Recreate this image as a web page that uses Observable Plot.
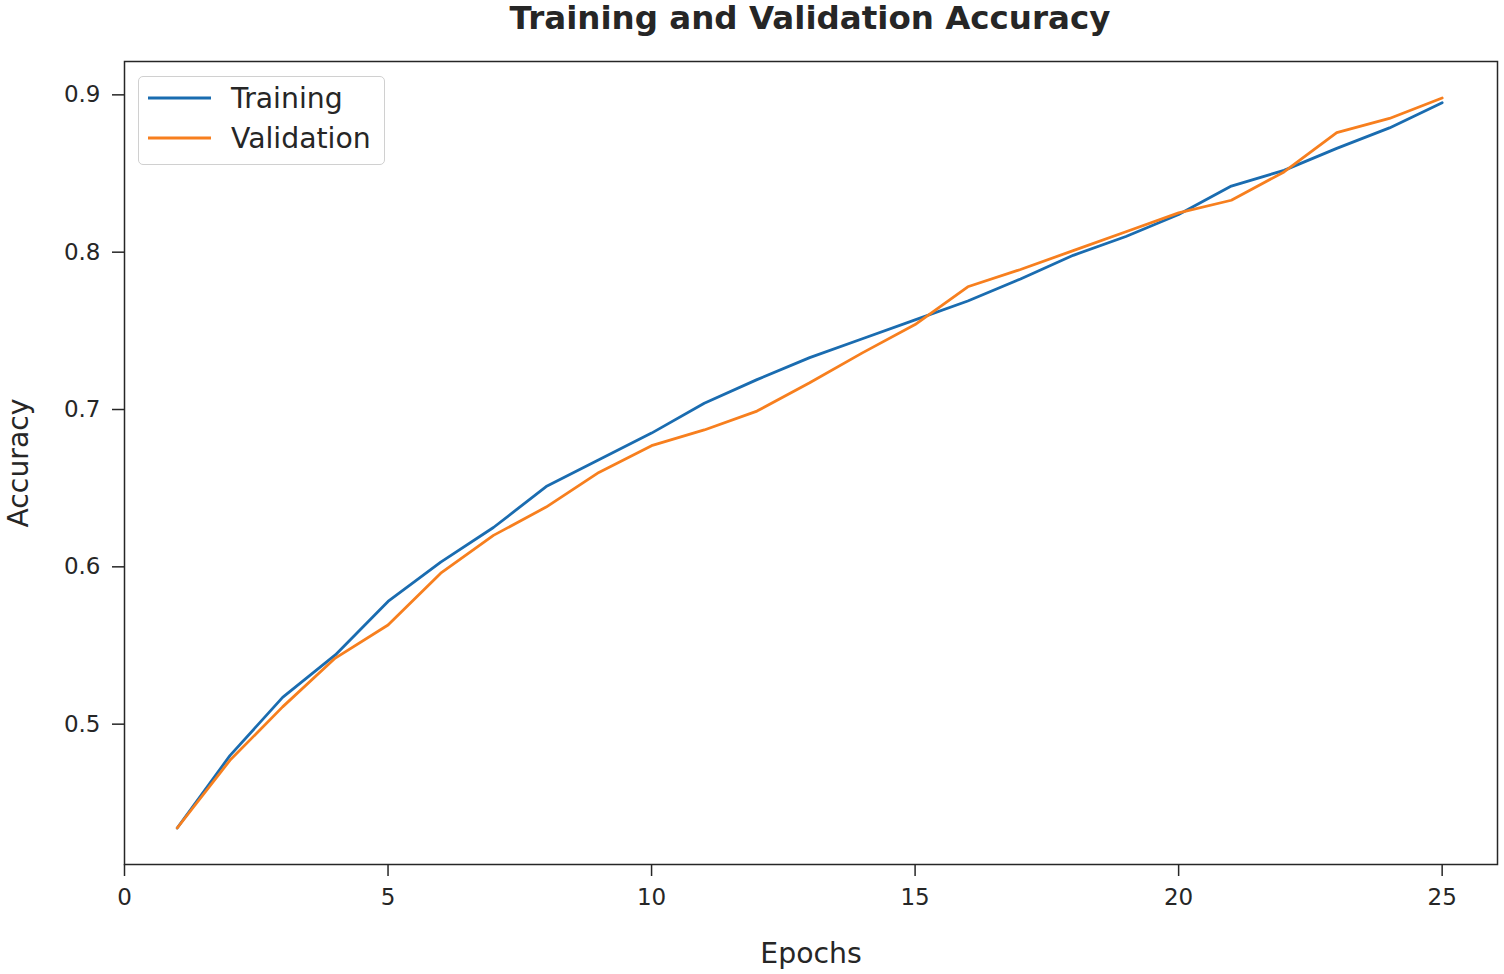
<!DOCTYPE html>
<html>
<head>
<meta charset="utf-8">
<script src="https://cdn.jsdelivr.net/npm/d3@7"></script>
<script src="https://cdn.jsdelivr.net/npm/@observablehq/plot@0.6"></script>
<style>
  html, body { margin: 0; padding: 0; background: #fff; }
  #wrap { position: relative; width: 1504px; height: 974px; font-family: "DejaVu Sans", sans-serif; color: #262626; }
  #title { height: 40px; line-height: 36px; font-size: 32.5px; font-weight: bold; text-align: center; padding-left: 116px; box-sizing: border-box; width: 1504px; }
  #legend { position: absolute; left: 138px; top: 76px; width: 247px; height: 89px; box-sizing: border-box; border: 1.5px solid #d0d0d0; border-radius: 5px; background: rgba(255,255,255,0.85); }
  .item { position: absolute; left: 9px; height: 30px; display: flex; align-items: center; font-size: 28.3px; color: #262626; }
  .item svg { margin-right: 20px; }
</style>
</head>
<body>
<div id="wrap">
  <div id="title">Training and Validation Accuracy</div>
  <div id="chart"></div>
  <div id="legend"></div>
</div>
<script>
const epochs = [1,2,3,4,5,6,7,8,9,10,11,12,13,14,15,16,17,18,19,20,21,22,23,24,25];
const training = [0.434,0.480,0.517,0.544,0.578,0.603,0.625,0.651,0.668,0.685,0.704,0.719,0.733,0.745,0.757,0.769,0.783,0.798,0.810,0.824,0.842,0.852,0.866,0.879,0.895];
const validation = [0.434,0.477,0.511,0.542,0.563,0.596,0.620,0.638,0.660,0.677,0.687,0.699,0.717,0.736,0.754,0.778,0.789,0.801,0.813,0.825,0.833,0.851,0.876,0.885,0.898];
const seriesNames = ["Training", "Validation"];
const seriesColors = ["#1a6cb0", "#f77f1e"];
const xTicks = [0, 5, 10, 15, 20, 25];
const yTicks = [0.5, 0.6, 0.7, 0.8, 0.9];
const xLabel = "Epochs";
const yLabel = "Accuracy";

const rows = [];
epochs.forEach((e, i) => {
  rows.push({epoch: e, acc: training[i], series: seriesNames[0]});
});
epochs.forEach((e, i) => {
  rows.push({epoch: e, acc: validation[i], series: seriesNames[1]});
});

const chart = Plot.plot({
  width: 1504,
  height: 934,
  marginLeft: 124,
  marginRight: 7,
  marginTop: 21,
  marginBottom: 110,
  style: {fontFamily: "DejaVu Sans, sans-serif", fontSize: "23px", color: "#262626", background: "white"},
  x: {domain: [0, 26.05]},
  y: {domain: [0.4108, 0.9212]},
  color: {domain: seriesNames, range: seriesColors},
  marks: [
    Plot.frame({stroke: "#262626", strokeWidth: 1.5}),
    Plot.axisX({ticks: xTicks, tickSize: 12, tickPadding: 12, tickFormat: d => String(d), label: null, strokeWidth: 1.5}),
    Plot.axisY({ticks: yTicks, tickSize: 12, tickPadding: 12, tickFormat: d => d.toFixed(1), label: null, strokeWidth: 1.5}),
    Plot.line(rows, {x: "epoch", y: "acc", stroke: "series", strokeWidth: 2.8, strokeLinejoin: "miter"}),
    Plot.text([xLabel], {frameAnchor: "bottom", textAnchor: "middle", dy: 98, fontSize: 28.3, fill: "#262626"}),
    Plot.text([yLabel], {frameAnchor: "left", textAnchor: "middle", dx: -106, rotate: -90, fontSize: 28.3, fill: "#262626"})
  ]
});
document.getElementById("chart").appendChild(chart);

const legend = document.getElementById("legend");
seriesNames.forEach((name, i) => {
  const item = document.createElement("div");
  item.className = "item";
  item.style.top = (i === 0 ? 6 : 46) + "px";
  item.innerHTML = `<svg width="63" height="6"><line x1="0" x2="63" y1="3" y2="3" stroke="${seriesColors[i]}" stroke-width="3"/></svg><span>${name}</span>`;
  legend.appendChild(item);
});
</script>
</body>
</html>
